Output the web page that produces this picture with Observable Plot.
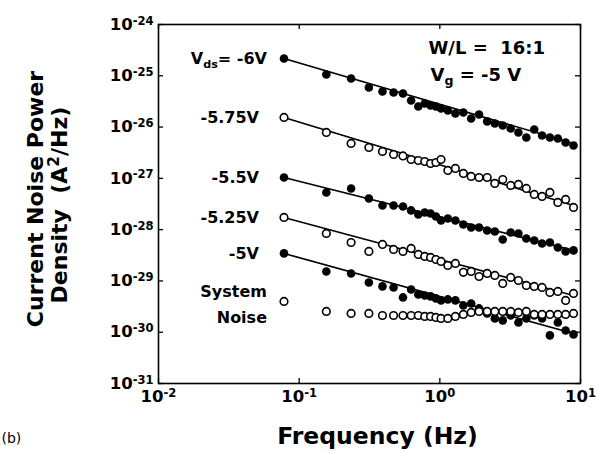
<!DOCTYPE html>
<html>
<head>
<meta charset="utf-8">
<script src="https://cdn.jsdelivr.net/npm/d3@7"></script>
<script src="https://cdn.jsdelivr.net/npm/@observablehq/plot@0.6"></script>
<style>
  html, body { margin: 0; padding: 0; background: #fff; overflow: hidden; }
  svg text { white-space: pre; }
</style>
</head>
<body>
<div id="chart"></div>
<script>
// ---- data ----
const freq = [0.078, 0.156, 0.234, 0.313, 0.391, 0.469, 0.547, 0.625, 0.703, 0.781, 0.859, 0.938, 1.02,
  1.14, 1.29, 1.47, 1.67, 1.90, 2.17, 2.46, 2.80, 3.19, 3.62, 4.12, 4.69, 5.33, 6.06, 6.90, 7.84, 8.92];

const vds6 = [2.17e-25, 1.06e-25, 8.85e-26, 5.92e-26, 4.94e-26, 4.72e-26, 4.52e-26, 3.30e-26, 2.52e-26, 2.88e-26, 2.64e-26, 2.52e-26, 2.31e-26,
  2.11e-26, 1.84e-26, 1.93e-26, 1.47e-26, 1.76e-26, 1.29e-26, 1.17e-26, 1.07e-26, 9.4e-27, 7.85e-27, 6.27e-27, 8.97e-27, 6.86e-27, 6.27e-27, 6.0e-27, 5.01e-27, 4.38e-27];
const vds575 = [1.54e-26, 7.85e-27, 4.79e-27, 4.0e-27, 3.34e-27, 2.92e-27, 2.74e-27, 2.33e-27, 2.23e-27, 2.13e-27, 1.95e-27, 2.04e-27, 2.33e-27,
  1.43e-27, 1.56e-27, 1.25e-27, 1.09e-27, 1.04e-27, 1.04e-27, 7.96e-28, 9.5e-28, 7.28e-28, 7.6e-28, 6.35e-28, 4.85e-28, 4.44e-28, 5.31e-28, 3.39e-28, 3.88e-28, 2.71e-28];
const vds55 = [1.04e-27, 5.31e-28, 6.35e-28, 4.06e-28, 2.96e-28, 2.96e-28, 2.83e-28, 2.37e-28, 1.98e-28, 2.16e-28, 2.07e-28, 1.81e-28, 1.51e-28,
  1.65e-28, 1.51e-28, 1.26e-28, 1.10e-28, 1.10e-28, 9.64e-29, 9.23e-29, 6.44e-29, 8.81e-29, 8.43e-29, 6.73e-29, 6.15e-29, 5.38e-29, 5.62e-29, 4.5e-29, 3.76e-29, 3.94e-29];
const vds525 = [1.73e-28, 8.43e-29, 5.62e-29, 3.76e-29, 5.15e-29, 4.11e-29, 3.76e-29, 4.31e-29, 3.29e-29, 3.01e-29, 2.87e-29, 2.62e-29, 2.40e-29,
  2.0e-29, 2.19e-29, 1.47e-29, 1.53e-29, 1.22e-29, 1.40e-29, 1.28e-29, 8.93e-30, 1.17e-29, 1.02e-29, 8.17e-30, 7.82e-30, 7.46e-30, 5.97e-30, 6.24e-30, 4.17e-30, 5.70e-30];
const vds5 = [3.44e-29, 1.53e-29, 1.40e-29, 9.35e-30, 7.82e-30, 7.46e-30, 4.77e-30, 6.82e-30, 5.46e-30, 5.21e-30, 4.99e-30, 4.56e-30, 4.17e-30,
  4.36e-30, 4.17e-30, 3.33e-30, 3.64e-30, 2.91e-30, 2.32e-30, 1.86e-30, 1.70e-30, 2.12e-30, 1.55e-30, 1.86e-30, 2.12e-30, 1.86e-30, 8.67e-31, 1.55e-30, 1.08e-30, 9.06e-31];
const sysNoise = [3.98e-30, 2.54e-30, 2.32e-30, 2.32e-30, 2.12e-30, 2.12e-30, 2.12e-30, 2.12e-30, 2.12e-30, 2.03e-30, 2.03e-30, 1.94e-30, 1.86e-30,
  1.86e-30, 2.03e-30, 2.22e-30, 2.43e-30, 2.54e-30, 2.54e-30, 2.54e-30, 2.54e-30, 2.54e-30, 2.43e-30, 2.54e-30, 2.22e-30, 2.22e-30, 2.22e-30, 2.22e-30, 2.22e-30, 2.32e-30];

// fitted power-law lines (start, end)
const fitFreq = [0.078, 8.92];
const fit6 = [2.17e-25, 4.79e-27];
const fit575 = [1.54e-26, 2.96e-28];
const fit55 = [1.04e-27, 3.94e-29];
const fit525 = [1.73e-28, 5.21e-30];
const fit5 = [3.44e-29, 9.48e-31];

const seriesNames = ["-6V", "-5.75V", "-5.5V", "-5.25V", "-5V", "System Noise"];
const seriesLabels = ["V_{ds}= -6V", "-5.75V", "-5.5V", "-5.25V", "-5V", "System\nNoise"];
const xTicks = [1e-2, 1e-1, 1, 10];
const yTicks = [1e-31, 1e-30, 1e-29, 1e-28, 1e-27, 1e-26, 1e-25, 1e-24];

// ---- tables ----
const allValues = [vds6, vds575, vds55, vds525, vds5, sysNoise];
const filledIdx = [0, 2, 4];
const openIdx = [1, 3, 5];
const rows = (idx) => idx.flatMap(i => allValues[i].map((v, j) => ({f: freq[j], v, name: seriesNames[i]})));
const filledRows = rows(filledIdx);
const openRows = rows(openIdx);
const fits = [fit6, fit575, fit55, fit525, fit5];
const fitRows = fits.flatMap((fv, i) => fv.map((v, j) => ({f: fitFreq[j], v, name: seriesNames[i]})));
const labelRows = allValues.map((vals, i) => ({f: freq[0], v: vals[0], label: seriesLabels[i]}));

const W = 596, H = 451, mL = 158, mR = 16, mT = 24, mB = 68;
const plotW = W - mL - mR, plotH = H - mT - mB;
const FONT = "DejaVu Sans, Liberation Sans, sans-serif";
const pow = d => `10^{${Math.round(Math.log10(d))}}`;

const chart = Plot.plot({
  width: W, height: H,
  marginLeft: mL, marginRight: mR, marginTop: mT, marginBottom: mB,
  style: {fontFamily: FONT, fontWeight: "bold", fontSize: "16.5px", color: "black", background: "white", overflow: "visible"},
  x: {type: "log", domain: [1e-2, 10]},
  y: {type: "log", domain: [1e-31, 1e-24]},
  marks: [
    Plot.frame({stroke: "black", strokeWidth: 1.6}),
    // inward ticks on all four sides
    Plot.tickY(yTicks, {y: d => d, insetRight: plotW - 5, stroke: "black", strokeWidth: 1.3}),
    Plot.tickY(yTicks, {y: d => d, insetLeft: plotW - 5, stroke: "black", strokeWidth: 1.3}),
    Plot.tickX(xTicks, {x: d => d, insetTop: plotH - 5, stroke: "black", strokeWidth: 1.3}),
    Plot.tickX(xTicks, {x: d => d, insetBottom: plotH - 5, stroke: "black", strokeWidth: 1.3}),
    Plot.axisX({ticks: xTicks, tickFormat: pow, tickSize: 0, tickPadding: 7, label: null, fontSize: 16.5, fontWeight: "bold", fill: "black"}),
    Plot.axisY({ticks: yTicks, tickFormat: pow, tickSize: 0, tickPadding: 5, label: null, fontSize: 16.5, fontWeight: "bold", fill: "black"}),
    // fitted lines
    Plot.line(fitRows, {x: "f", y: "v", z: "name", stroke: "black", strokeWidth: 1.6}),
    // data points
    Plot.dot(filledRows, {x: "f", y: "v", r: 4.3, fill: "black", stroke: "none"}),
    Plot.dot(openRows, {x: "f", y: "v", r: 3.8, fill: "white", stroke: "black", strokeWidth: 1.6}),
    // series labels
    Plot.text(labelRows.slice(0, 1), {x: "f", y: "v", text: "label", textAnchor: "end", dx: -17, fontSize: 16, fontWeight: "bold", fill: "black"}),
    Plot.text(labelRows.slice(1, 5), {x: "f", y: "v", text: "label", textAnchor: "end", dx: -25, fontSize: 16, fontWeight: "bold", fill: "black"}),
    Plot.text(labelRows.slice(5), {x: "f", y: "v", text: "label", textAnchor: "end", dx: -17, lineHeight: 1.68, fontSize: 16, fontWeight: "bold", fill: "black"}),
    // annotations
    Plot.text(["W/L =  16:1"], {frameAnchor: "top-left", text: d => d, textAnchor: "start", lineAnchor: "bottom", dx: 270, dy: 29, fontSize: 18, fontWeight: "bold", fill: "black"}),
    Plot.text(["V_{g} = -5 V"], {frameAnchor: "top-left", text: d => d, textAnchor: "start", lineAnchor: "bottom", dx: 272, dy: 56, fontSize: 18, fontWeight: "bold", fill: "black"}),
    // axis titles
    Plot.text(["Frequency (Hz)"], {frameAnchor: "bottom", text: d => d, textAnchor: "middle", lineAnchor: "bottom", dx: 8, dy: 60, fontSize: 23.5, fontWeight: "bold", fill: "black"}),
    Plot.text(["Current Noise Power"], {frameAnchor: "left", text: d => d, rotate: -90, textAnchor: "middle", lineAnchor: "bottom", dx: -116, dy: -5, fontSize: 22, fontWeight: "bold", fill: "black"}),
    Plot.text(["Density  (A^{2}/Hz)"], {frameAnchor: "left", text: d => d, rotate: -90, textAnchor: "middle", lineAnchor: "bottom", dx: -92, dy: 1, fontSize: 22, fontWeight: "bold", fill: "black"}),
    Plot.text(["(b)"], {frameAnchor: "bottom-left", text: d => d, textAnchor: "start", lineAnchor: "bottom", dx: 1 - mL, dy: 59, fontSize: 14, fontWeight: "normal", fill: "black"})
  ]
});

document.getElementById("chart").appendChild(chart);

// turn ^{..} and _{..} into real superscript / subscript tspans
function rich(svg) {
  const NS = "http://www.w3.org/2000/svg";
  svg.querySelectorAll("text").forEach(el => {
    if (el.querySelector("tspan")) return;
    const s = el.textContent;
    if (!/[\^_]\{/.test(s)) return;
    const fs = parseFloat(getComputedStyle(el).fontSize) || 16;
    el.textContent = "";
    let cur = 0;
    const add = (txt, off, small) => {
      if (!txt) return;
      const t = document.createElementNS(NS, "tspan");
      t.textContent = txt;
      if (off !== cur) { t.setAttribute("dy", (off - cur).toFixed(2)); cur = off; }
      if (small) t.setAttribute("font-size", (fs * 0.7).toFixed(2) + "px");
      el.appendChild(t);
    };
    const re = /([\^_])\{([^}]*)\}/g;
    let last = 0, m;
    while ((m = re.exec(s))) {
      add(s.slice(last, m.index), 0, false);
      add(m[2], m[1] === "^" ? -0.32 * fs : 0.26 * fs, true);
      last = re.lastIndex;
    }
    add(s.slice(last), 0, false);
  });
}
rich(chart);
</script>
</body>
</html>
